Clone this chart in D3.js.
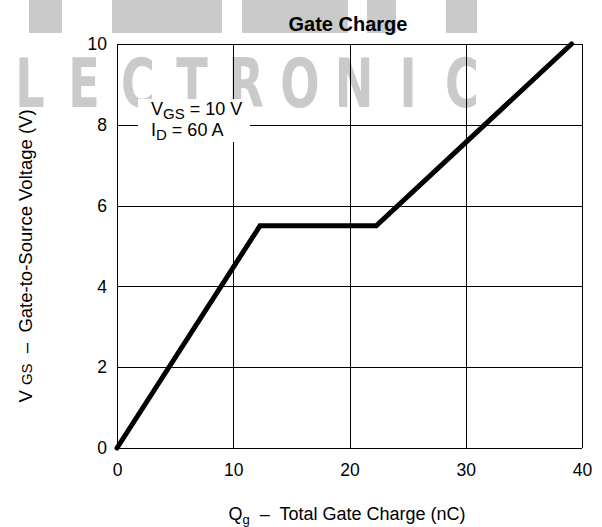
<!DOCTYPE html>
<html>
<head>
<meta charset="utf-8">
<script src="https://cdn.jsdelivr.net/npm/d3@7"></script>
<style>
  html, body { margin: 0; padding: 0; background: #fff; }
  svg { display: block; font-family: "Liberation Sans", Arial, sans-serif; }
  .pre { white-space: pre; }
</style>
</head>
<body>
<svg id="chart" width="602" height="527"></svg>
<script>
// ---- data ----
const chargeNC = [0, 12.3, 22.3, 39.1];      // Qg (nC)
const gateVolts = [0, 5.5, 5.5, 10];         // VGS (V)
const xTicks = [0, 10, 20, 30, 40];
const yTicks = [0, 2, 4, 6, 8, 10];
const titleText = "Gate Charge";
const watermarkLetters = ["L","E","C","T","R","O","N","I","C"];

const svg = d3.select("#chart");
const W = 602, H = 527;
const m = { left: 117, right: 20, top: 44, bottom: 79 };
const x = d3.scaleLinear().domain([0, 40]).range([m.left, W - m.right]);
const y = d3.scaleLinear().domain([0, 10]).range([H - m.bottom, m.top]);

// ---- watermark (behind) ----
const wm = svg.append("g").attr("fill", "#cacaca");
[[29, 62], [112, 222], [242, 348], [367, 396], [446, 477]].forEach(([a, b]) => {
  wm.append("rect").attr("x", a).attr("y", 0).attr("width", b - a).attr("height", 33);
});
wm.selectAll("text").data(watermarkLetters).join("text")
  .attr("transform", (d, i) => `translate(${30 + i * 54},107) scale(0.68,1)`)
  .attr("text-anchor", "middle")
  .attr("font-family", "DejaVu Sans")
  .attr("font-weight", "bold")
  .attr("font-size", 68)
  .text(d => d);

// ---- grid ----
const grid = svg.append("g").attr("stroke", "#000").attr("stroke-width", 1).attr("shape-rendering", "crispEdges");
grid.selectAll("line.v").data(xTicks).join("line").attr("class", "v")
  .attr("x1", d => Math.round(x(d)) + 0.5).attr("x2", d => Math.round(x(d)) + 0.5)
  .attr("y1", y(10)).attr("y2", y(0));
grid.selectAll("line.h").data(yTicks).join("line").attr("class", "h")
  .attr("y1", d => Math.round(y(d)) + 0.5).attr("y2", d => Math.round(y(d)) + 0.5)
  .attr("x1", x(0)).attr("x2", x(40));

// ---- axes labels via d3 axes ----
const xAxis = svg.append("g").attr("transform", `translate(0,${y(0)})`)
  .call(d3.axisBottom(x).tickValues(xTicks).tickSize(0).tickPadding(16));
const yAxis = svg.append("g").attr("transform", `translate(${x(0)},0)`)
  .call(d3.axisLeft(y).tickValues(yTicks).tickSize(0).tickPadding(10));
[xAxis, yAxis].forEach(a => {
  a.select(".domain").remove();
  a.selectAll("text").attr("font-family", "Liberation Sans, Arial, sans-serif")
    .attr("font-size", 17.5).attr("fill", "#000");
});

// ---- annotation box ----
svg.append("rect").attr("x", 138).attr("y", 99).attr("width", 112).attr("height", 43).attr("fill", "#fff");
const ann = svg.append("g").attr("font-size", 18).attr("fill", "#000");
const t1 = ann.append("text").attr("x", 151).attr("y", 115);
t1.append("tspan").text("V");
t1.append("tspan").attr("font-size", 15).attr("dy", 4).text("GS");
t1.append("tspan").attr("dy", -4).text(" = 10 V");
const t2 = ann.append("text").attr("x", 151).attr("y", 136);
t2.append("tspan").text("I");
t2.append("tspan").attr("font-size", 15).attr("dy", 4).text("D");
t2.append("tspan").attr("dy", -4).text(" = 60 A");

// ---- curve ----
const pts = chargeNC.map((c, i) => [c, gateVolts[i]]);
svg.append("path").datum(pts)
  .attr("d", d3.line().x(d => x(d[0])).y(d => y(d[1])))
  .attr("fill", "none").attr("stroke", "#000").attr("stroke-width", 5)
  .attr("stroke-linecap", "round").attr("stroke-linejoin", "miter");

// ---- title ----
svg.append("text").attr("x", 348).attr("y", 31).attr("text-anchor", "middle")
  .attr("font-weight", "bold").attr("font-size", 20).text(titleText);

// ---- x label ----
const xl = svg.append("text").attr("class", "pre").attr("x", 347).attr("y", 520)
  .attr("text-anchor", "middle").attr("font-size", 18);
xl.append("tspan").text("Q");
xl.append("tspan").attr("font-size", 13).attr("dy", 4).text("g");
xl.append("tspan").attr("dy", -4).text("  \u2013  Total Gate Charge (nC)");

// ---- y label ----
const yl = svg.append("text").attr("class", "pre").attr("transform", "translate(32,256) rotate(-90)")
  .attr("text-anchor", "middle").attr("font-size", 18.5);
yl.append("tspan").text("V ");
yl.append("tspan").attr("font-size", 15).text("GS");
yl.append("tspan").text("  \u2013  Gate-to-Source Voltage (V)");
</script>
</body>
</html>
